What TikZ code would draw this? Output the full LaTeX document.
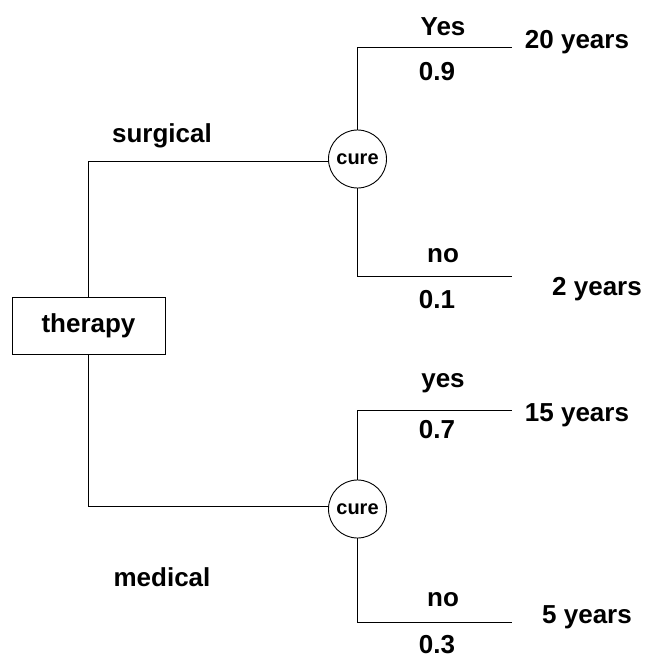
\documentclass[tikz,border=0pt]{standalone}
\usepackage{fontspec}
\setmainfont{Liberation Sans}
\begin{document}
\begin{tikzpicture}[x=1pt,y=-1pt,
  lbl/.style={font=\fontsize{26}{30}\selectfont\bfseries, inner sep=0pt},
  chance/.style={circle, draw, line width=0.9pt, minimum size=58pt, inner sep=0pt,
                 font=\fontsize{20}{24}\selectfont\bfseries},
  decision/.style={draw, line width=0.9pt, minimum width=153pt, minimum height=57pt,
                   inner sep=0pt, font=\fontsize{26}{30}\selectfont\bfseries},
  branch/.style={line width=0.9pt}]
\useasboundingbox (0,0) rectangle (649,658);

% decision and chance nodes
\node[decision] (therapy) at (88.5,325.5) {therapy};
\node[chance] (cureS) at (357.5,159) {cure};
\node[chance] (cureM) at (357.5,509) {cure};

% corners and leaf ends of the tree
\coordinate (sTurn) at (88.5,161);
\coordinate (mTurn) at (88.5,506);
\coordinate (sYesTurn) at (357.5,47);
\coordinate (sYesEnd) at (512,47);
\coordinate (sNoTurn) at (357.5,276);
\coordinate (sNoEnd) at (512,276);
\coordinate (mYesTurn) at (357.5,410);
\coordinate (mYesEnd) at (512,410);
\coordinate (mNoTurn) at (357.5,622);
\coordinate (mNoEnd) at (512,622);

% branches from the decision
\draw[branch] (therapy.north) -- (sTurn) -- (sTurn -| cureS.west);
\draw[branch] (therapy.south) -- (mTurn) -- (mTurn -| cureM.west);

% branches from the chance nodes
\draw[branch] (cureS.north) -- (sYesTurn) -- (sYesEnd);
\draw[branch] (cureS.south) -- (sNoTurn) -- (sNoEnd);
\draw[branch] (cureM.north) -- (mYesTurn) -- (mYesEnd);
\draw[branch] (cureM.south) -- (mNoTurn) -- (mNoEnd);

% branch labels
\node[lbl] (surgical) at (162,136) {surgical};
\node[lbl] (medical) at (162,577) {medical};
\node[lbl] (yesS) at (443,27) {Yes};
\node[lbl] (pYesS) at (437,72) {0.9};
\node[lbl] (noS) at (443,256) {no};
\node[lbl] (pNoS) at (437,300) {0.1};
\node[lbl] (yesM) at (443,383) {yes};
\node[lbl] (pYesM) at (437,430) {0.7};
\node[lbl] (noM) at (443,600) {no};
\node[lbl] (pNoM) at (437,645) {0.3};

% outcomes
\node[lbl] (out1) at (577,42) {20 years};
\node[lbl] (out2) at (597,289) {2 years};
\node[lbl] (out3) at (577,415) {15 years};
\node[lbl] (out4) at (587,617) {5 years};
\end{tikzpicture}
\end{document}
